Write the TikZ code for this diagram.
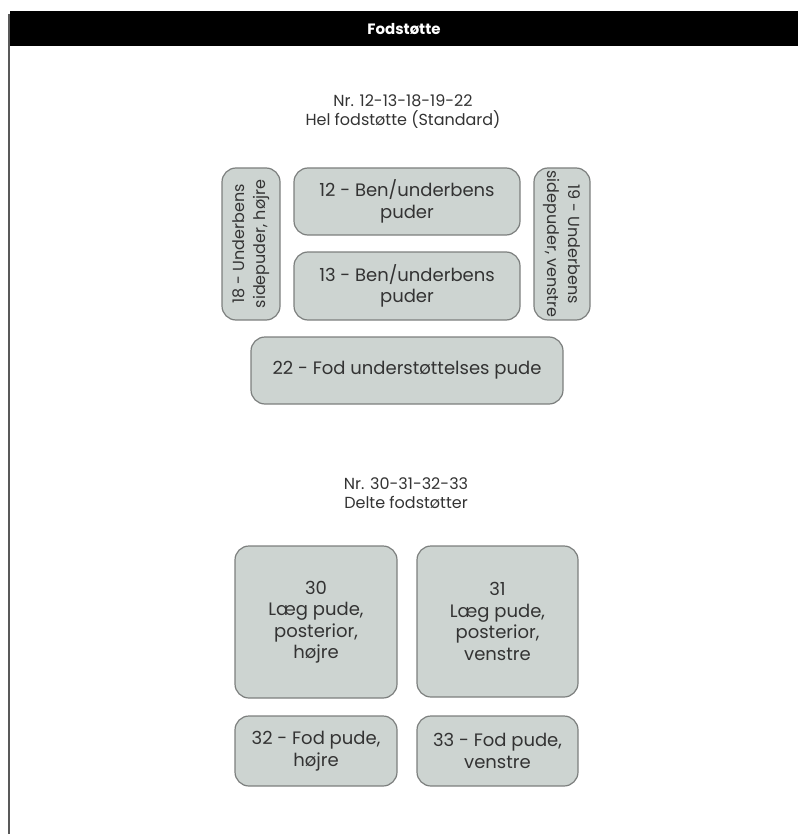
\documentclass[tikz,border=0pt]{standalone}
\usepackage{fontspec}
\setmainfont{Poppins}
\usetikzlibrary{shapes}

\definecolor{padfill}{HTML}{CDD4D1}
\definecolor{paddraw}{HTML}{7C7F7E}
\definecolor{padtext}{HTML}{333333}

\begin{document}
\begin{tikzpicture}[x = 1pt, y = -1pt, font=\fontsize{18}{21.5}\selectfont]
	\tikzstyle{padStyle}=[shape = rectangle, rounded corners = 14pt, draw = paddraw, line width = 1.2pt, fill = padfill, text = padtext, align = center, inner sep = 0pt]
	\tikzstyle{sideStyle}=[padStyle, font = \fontsize{16}{21}\selectfont]
	\tikzstyle{titleStyle}=[align = center, text = padtext, inner sep = 0pt, font = \fontsize{16}{19}\selectfont]
	\useasboundingbox (0, 0) rectangle (798, 834);
	% header bar
	\fill[black] (10, 11) rectangle (798, 46);
	\draw[line width = 1.5pt, black!65] (9, 14) -- (9, 834);
	\node[text = white, font = \fontsize{15}{18}\selectfont\bfseries] (head) at (404, 29) {Fodstøtte};
	% hel fodstotte
	\node[titleStyle] (t1) at (403, 112) {Nr. 12-13-18-19-22\\Hel fodstøtte (Standard)};
	\node[padStyle, minimum width = 226pt, minimum height = 67pt] (p12) at (407, 201.5) {12 - Ben/underbens\\puder};
	\node[padStyle, minimum width = 226pt, minimum height = 68pt] (p13) at (407, 286) {13 - Ben/underbens\\puder};
	\node[sideStyle, rotate = 90, minimum width = 152pt, minimum height = 58pt] (p18) at (251, 244) {18 - Underbens\\sidepuder, højre};
	\node[sideStyle, rotate = -90, minimum width = 152pt, minimum height = 56pt] (p19) at (562, 244) {19 - Underbens\\sidepuder, venstre};
	\node[padStyle, minimum width = 312pt, minimum height = 67pt] (p22) at (407, 370.5) {22 - Fod understøttelses pude};
	% delte fodstotter
	\node[titleStyle] (t2) at (406, 493) {Nr. 30-31-32-33\\Delte fodstøtter};
	\node[padStyle, minimum width = 162pt, minimum height = 152pt] (p30) at (316, 622) {30\\Læg pude,\\posterior,\\højre};
	\node[padStyle, minimum width = 161pt, minimum height = 151pt] (p31) at (497.5, 621.5) {31\\Læg pude,\\posterior,\\venstre};
	\node[padStyle, minimum width = 162pt, minimum height = 70pt] (p32) at (316, 751) {32 - Fod pude,\\højre};
	\node[padStyle, minimum width = 161pt, minimum height = 70pt] (p33) at (497.5, 751) {33 - Fod pude,\\venstre};
\end{tikzpicture}
\end{document}
